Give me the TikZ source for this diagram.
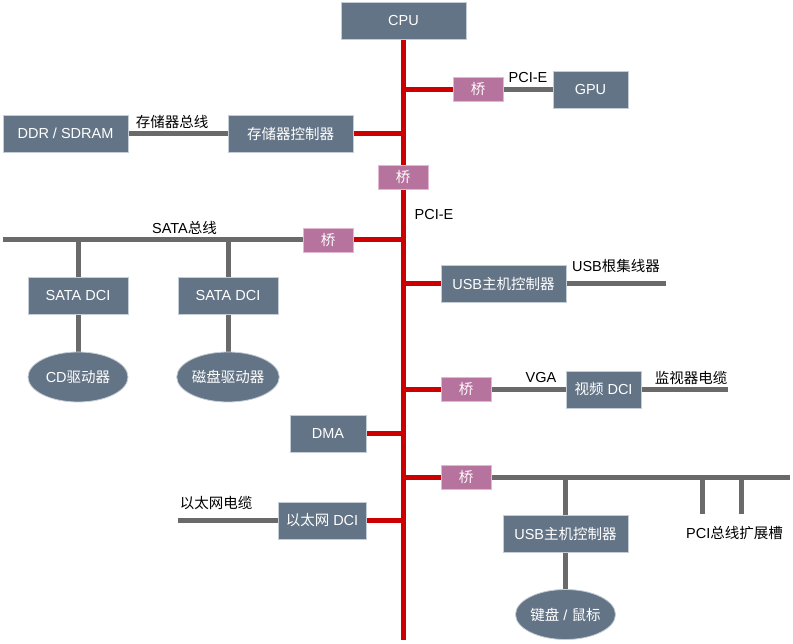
\documentclass[tikz,border=0pt]{standalone}
\usepackage{fontspec}
\setmainfont{Liberation Sans}
\newfontfamily\cjkfont{Noto Sans CJK SC}
\newcommand{\zhs}[1]{{\cjkfont #1}}
\usetikzlibrary{shapes.geometric,backgrounds}
\definecolor{boxc}{HTML}{647487}
\definecolor{boxb}{HTML}{C4CCD6}
\definecolor{pinkc}{HTML}{B5739D}
\definecolor{pinkb}{HTML}{E0B8D0}
\definecolor{redc}{HTML}{CC0000}
\definecolor{grayc}{HTML}{6A6A6A}
\tikzset{
  unitbox/.style={rectangle, fill=boxc, draw=boxb, line width=0.8pt, text=white, inner sep=0pt, font=\fontsize{14.5}{17}\selectfont},
  bridge/.style={rectangle, fill=pinkc, draw=pinkb, line width=0.8pt, text=white, inner sep=0pt, minimum width=50pt, minimum height=24pt, font=\fontsize{14.5}{17}\selectfont},
  disk/.style={ellipse, fill=boxc, draw=boxb, line width=0.8pt, text=white, inner sep=0pt, minimum width=100pt, minimum height=50pt, font=\fontsize{14.5}{17}\selectfont},
  lbl/.style={inner sep=0pt, text=black, font=\fontsize{14.5}{17}\selectfont},
  redline/.style={draw=redc, line width=5pt},
  grayline/.style={draw=grayc, line width=5pt},
}
\begin{document}
\begin{tikzpicture}[x=1pt,y=-1pt]
\useasboundingbox (0,0) rectangle (793,644);
% nodes
\node[unitbox, minimum width=125pt, minimum height=37pt] (cpu) at (403.5,20.5) {CPU};
\node[bridge] (br1) at (478,89.5) {\zhs{桥}};
\node[unitbox, minimum width=75pt, minimum height=37pt] (gpu) at (590.5,89.5) {GPU};
\node[unitbox, minimum width=125pt, minimum height=37pt] (ddr) at (65.5,133.5) {DDR / SDRAM};
\node[unitbox, minimum width=125pt, minimum height=37pt] (memc) at (290.5,133.5) {\zhs{存储器控制器}};
\node[bridge] (br2) at (403,177) {\zhs{桥}};
\node[bridge] (brs) at (328,240) {\zhs{桥}};
\node[unitbox, minimum width=100pt, minimum height=37pt] (sata1) at (78,295.5) {SATA DCI};
\node[unitbox, minimum width=100pt, minimum height=37pt] (sata2) at (228,295.5) {SATA DCI};
\node[disk] (cd) at (78,377) {CD\zhs{驱动器}};
\node[disk] (hd) at (228,377) {\zhs{磁盘驱动器}};
\node[unitbox, minimum width=125pt, minimum height=37pt] (usb1) at (503.5,283.5) {USB\zhs{主机控制器}};
\node[bridge] (brv) at (466,389.5) {\zhs{桥}};
\node[unitbox, minimum width=75pt, minimum height=37pt] (video) at (603.5,389.5) {\zhs{视频} DCI};
\node[unitbox, minimum width=76pt, minimum height=37pt] (dma) at (328,433.5) {DMA};
\node[bridge] (br4) at (466,477) {\zhs{桥}};
\node[unitbox, minimum width=88pt, minimum height=37pt] (eth) at (322,520.5) {\zhs{以太网} DCI};
\node[unitbox, minimum width=125pt, minimum height=37pt] (usb2) at (565.5,533.5) {USB\zhs{主机控制器}};
\node[disk] (kb) at (565.5,614.5) {\zhs{键盘} / \zhs{鼠标}};
% free ends
\coordinate (busbot) at (403.5,640);
\coordinate (sataL) at (3,240);
\coordinate (hubend) at (666,283.5);
\coordinate (monend) at (728,389.5);
\coordinate (pciend) at (790,477);
\coordinate (ethend) at (178,520.5);
\coordinate (slot1) at (702,514);
\coordinate (slot2) at (741,514);
% connectors (behind nodes)
\begin{scope}[on background layer]
\draw[redline] (cpu.south) -- (busbot);
\draw[redline] (br1.west) -- (br1.west -| busbot);
\draw[redline] (memc.east) -- (memc.east -| busbot);
\draw[redline] (brs.east) -- (brs.east -| busbot);
\draw[redline] (usb1.west) -- (usb1.west -| busbot);
\draw[redline] (brv.west) -- (brv.west -| busbot);
\draw[redline] (dma.east) -- (dma.east -| busbot);
\draw[redline] (br4.west) -- (br4.west -| busbot);
\draw[redline] (eth.east) -- (eth.east -| busbot);
\draw[grayline] (br1.east) -- (gpu.west);
\draw[grayline] (ddr.east) -- (memc.west);
\draw[grayline] (brs.west) -- (sataL);
\draw[grayline] (sata1.north) -- (sata1.north |- sataL);
\draw[grayline] (sata2.north) -- (sata2.north |- sataL);
\draw[grayline] (sata1.south) -- (cd.north);
\draw[grayline] (sata2.south) -- (hd.north);
\draw[grayline] (usb1.east) -- (hubend);
\draw[grayline] (brv.east) -- (video.west);
\draw[grayline] (video.east) -- (monend);
\draw[grayline] (br4.east) -- (pciend);
\draw[grayline] (usb2.north) -- (usb2.north |- pciend);
\draw[grayline] (usb2.south) -- (kb.north);
\draw[grayline] (slot1) -- (slot1 |- pciend);
\draw[grayline] (slot2) -- (slot2 |- pciend);
\draw[grayline] (eth.west) -- (ethend);
\end{scope}
% labels
\node[lbl] (l1) at (528,77.5) {PCI-E};
\node[lbl] (l2) at (172,122) {\zhs{存储器总线}};
\node[lbl] (l3) at (434,214.5) {PCI-E};
\node[lbl] (l4) at (184.5,227.5) {SATA\zhs{总线}};
\node[lbl] (l5) at (616,265.5) {USB\zhs{根集线器}};
\node[lbl] (l6) at (541,378) {VGA};
\node[lbl] (l7) at (691,378) {\zhs{监视器电缆}};
\node[lbl] (l8) at (216,503) {\zhs{以太网电缆}};
\node[lbl] (l9) at (734.5,533.5) {PCI\zhs{总线扩展槽}};
\end{tikzpicture}
\end{document}
